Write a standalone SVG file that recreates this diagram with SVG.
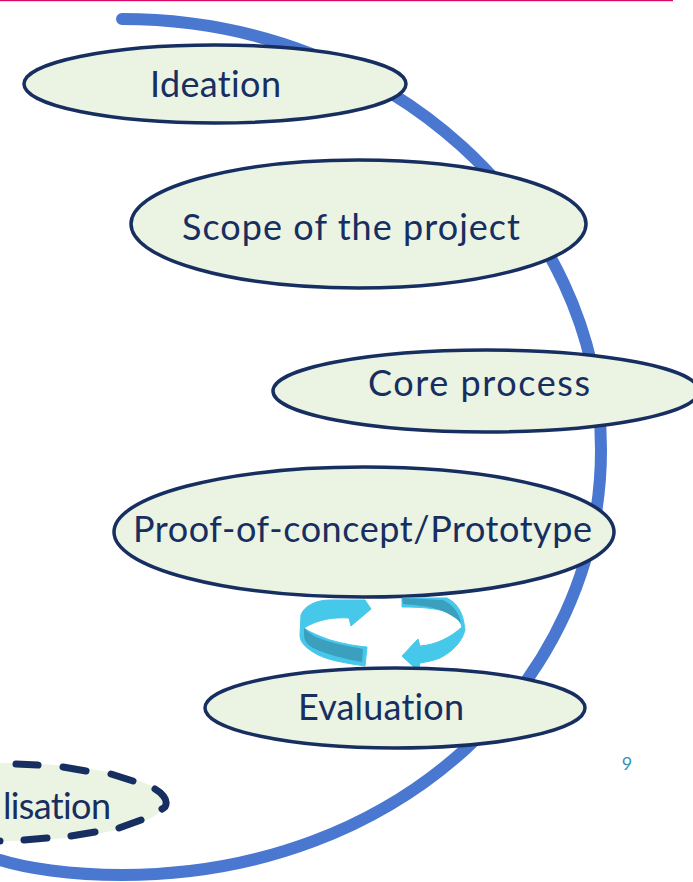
<svg xmlns="http://www.w3.org/2000/svg" width="693" height="882" viewBox="0 0 693 882">
<style>
.n{fill:#ebf3e3;stroke:#172f60;stroke-width:3.5}
.t{font-family:"Lato","Noto Sans",sans-serif;font-size:36px;fill:#172f60;font-variant-ligatures:none}
.a{fill:#45c8ea;stroke:#45c8ea;stroke-width:1;stroke-linejoin:round}
.d{fill:#3ba0be}
</style>
<rect width="693" height="882" fill="#fff"/>
<rect x="0" y="0" width="673" height="1.2" fill="#d80a64"/>
<g id="connectors">
<path d="M122 19C390 19 601 215 601 450C601 680 400 875 122 875C70 875 25 868 0 860" fill="none" stroke="#4a77d0" stroke-width="12" stroke-linecap="round"/>
</g>
<g id="ideation"><ellipse class="n" cx="215" cy="84" rx="191" ry="39"/><text class="t" x="150" y="97" textLength="131">Ideation</text></g>
<g id="scope"><ellipse class="n" cx="358.500" cy="224" rx="227.500" ry="64"/><text class="t" x="182" y="240" textLength="338">Scope of the project</text></g>
<g id="core"><ellipse class="n" cx="486" cy="391" rx="213" ry="41"/><text class="t" x="368" y="396" textLength="222">Core process</text></g>
<g id="poc"><ellipse class="n" cx="364" cy="532" rx="250" ry="65"/><text class="t" x="133" y="542" textLength="459">Proof-of-concept/Prototype</text></g>
<g id="cycle">
<path class="a" d="M301 615C304 606 316 600 330 600L365 600L371 609L351 626L349 618C335 617 318 619 304 628C310 632 314 634 330 640C345 644 355 646 367 647L365 666C345 663 325 660 313 652C305 647 300 642 300 635Z"/>
<path class="d" d="M304 628C308 632 312 635 316 637C330 643 348 646 363 649L362 662C345 659 325 654 313 648C307 645 304 640 304 635Z"/>
<path class="a" d="M402 598L447 598C456 603 463 610 465 630C462 642 452 652 440 658C432 661 426 662 420 663L418 671L402 656L418 639L420 646C435 645 450 638 462 627C460 620 455 615 447 612C435 608 420 607 402 607Z"/>
<path class="d" d="M402 598L443 600C452 604 459 612 461 623C455 617 448 613 440 610C428 606 415 605 403 604Z"/>
</g>
<g id="evaluation"><ellipse class="n" cx="395" cy="708" rx="190" ry="40"/><text class="t" x="298" y="720" textLength="166">Evaluation</text></g>
<g id="realisation">
<ellipse cx="5" cy="802" rx="160" ry="39" fill="#ebf3e3"/>
<path d="M16 764L38 765M63 767L86 771M111 774L133 781M155 789C162 793 167 799 166 804C166 806 164 808 162 809M141 820L119 828M95 832L71 836M47 838L24 840M0 841L-5 841" fill="none" stroke="#172f60" stroke-width="7" stroke-linecap="round"/>
<text class="t" x="3" y="819" textLength="108">lisation</text></g>
<text x="627" y="770" font-family="Lato,'Noto Sans',sans-serif" font-size="18" fill="#3b93b5" text-anchor="middle">9</text>
</svg>
